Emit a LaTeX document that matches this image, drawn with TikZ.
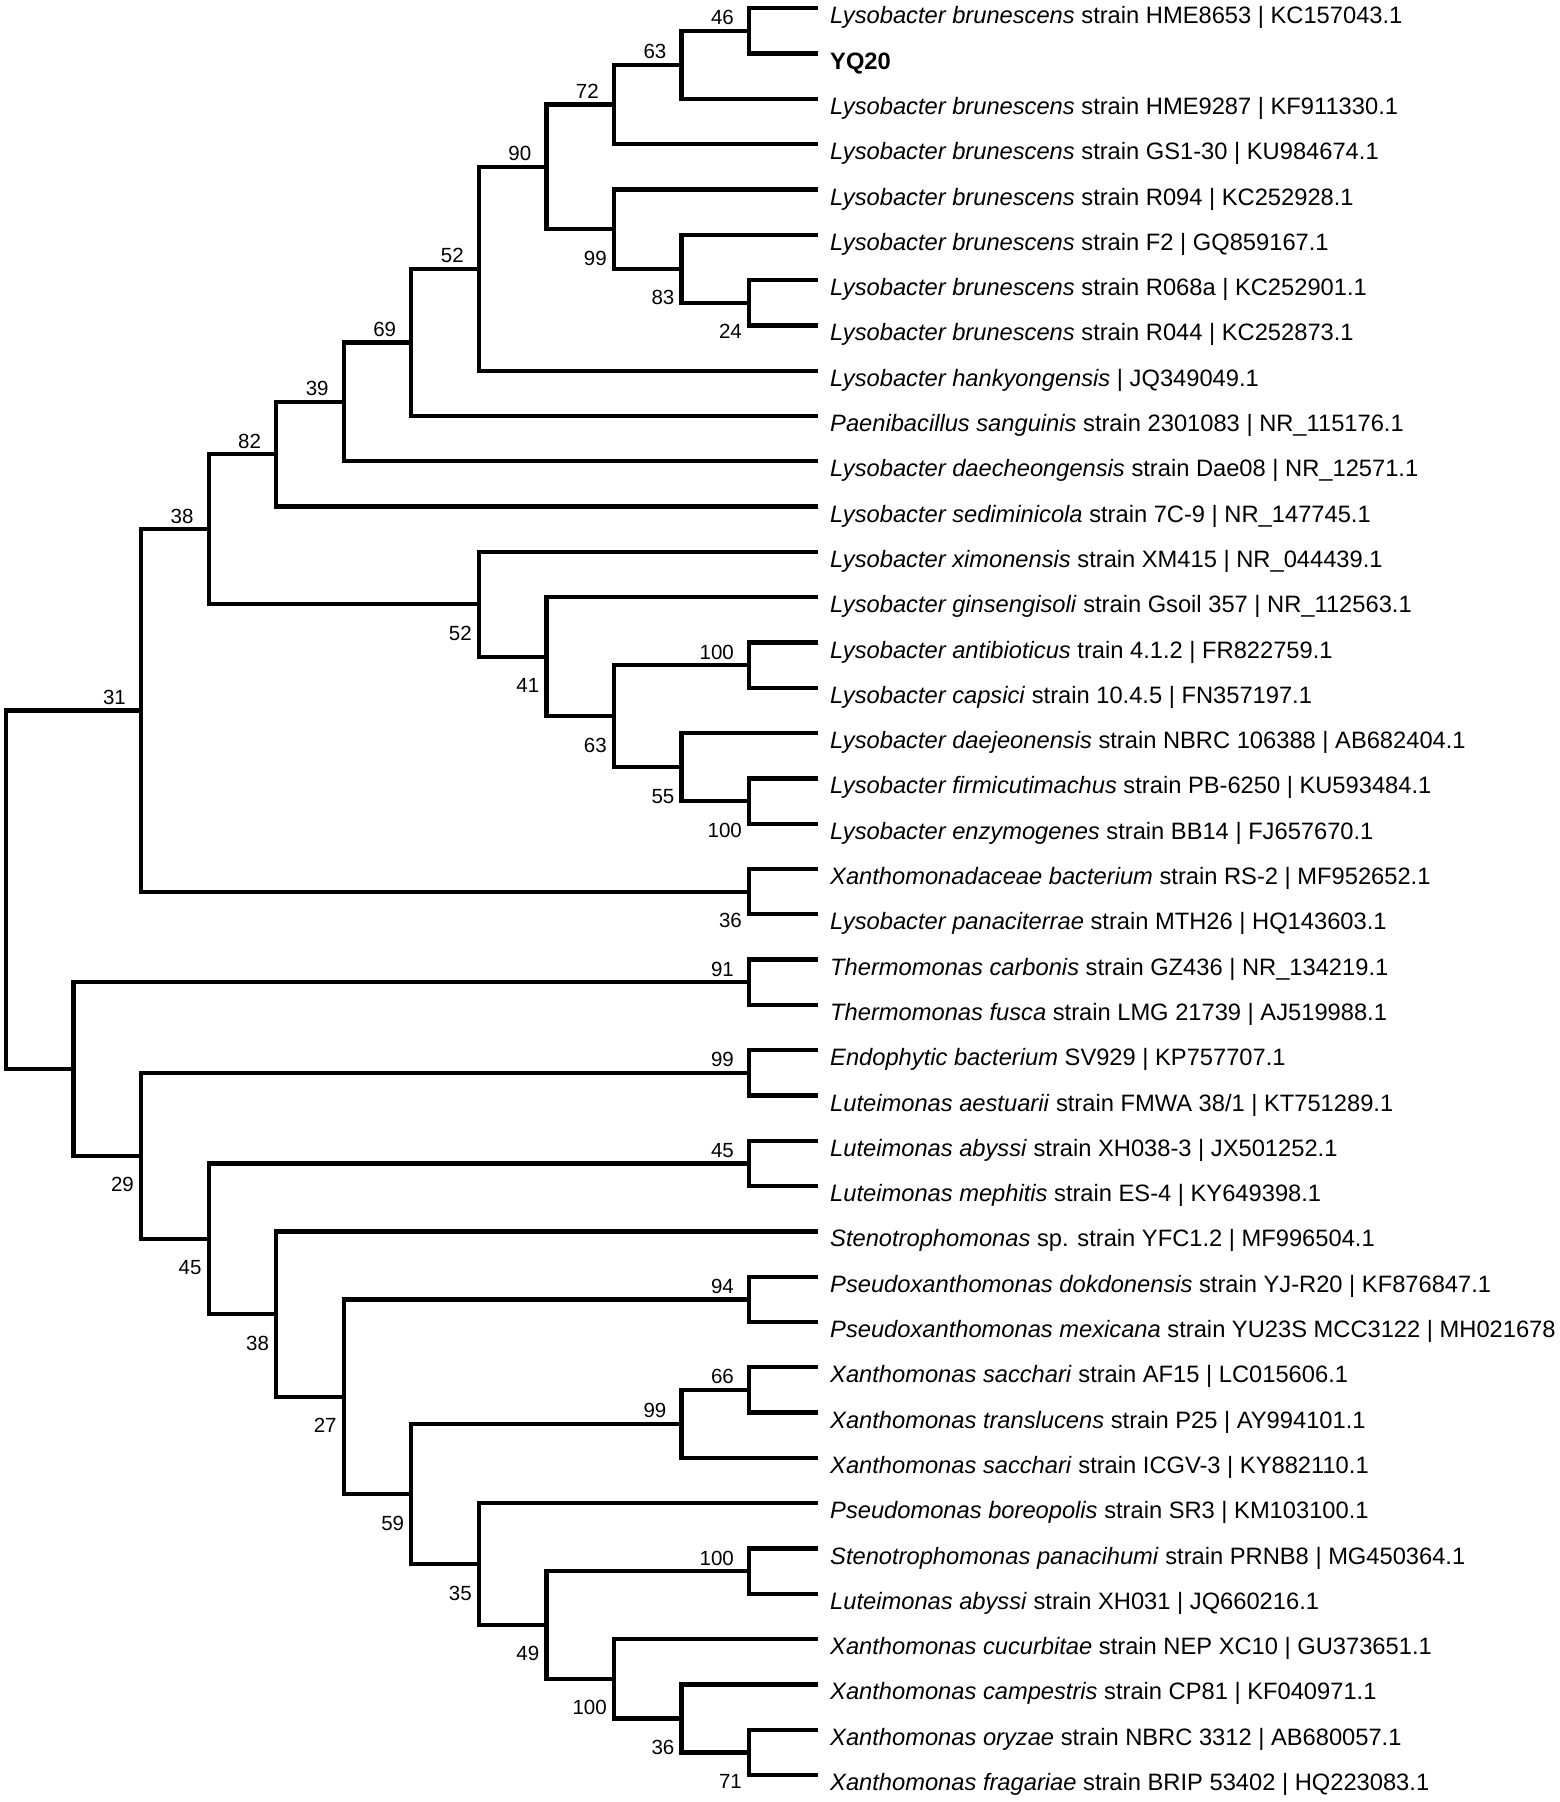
\documentclass[tikz,border=0pt]{standalone}
\usepackage{fontspec}
\setmainfont{Liberation Sans}
\newcommand{\taxfont}{\fontsize{23.7}{28}\selectfont}
\newcommand{\bsfont}{\fontsize{20.5}{24}\selectfont}
\begin{document}
\begin{tikzpicture}[x=1pt,y=-1pt,
  br/.style={line width=4.3pt},
  taxon/.style={anchor=base west, inner sep=0pt, font=\taxfont, xshift=12pt, yshift=-15.5pt},
  bsup/.style={anchor=base east, inner sep=0pt, font=\bsfont, xshift=-15pt, yshift=6pt},
  bsdn/.style={anchor=base east, inner sep=0pt, font=\bsfont, xshift=-7pt, yshift=-36pt}]
\useasboundingbox[fill=white] (0,0) rectangle (1559,1802);
% leaf ends
\coordinate (e0) at (818,8.3);
\coordinate (e1) at (818,53.6);
\coordinate (e2) at (818,98.9);
\coordinate (e3) at (818,144.2);
\coordinate (e4) at (818,189.5);
\coordinate (e5) at (818,234.8);
\coordinate (e6) at (818,280.1);
\coordinate (e7) at (818,325.4);
\coordinate (e8) at (818,370.7);
\coordinate (e9) at (818,416.0);
\coordinate (e10) at (818,461.3);
\coordinate (e11) at (818,506.6);
\coordinate (e12) at (818,551.9);
\coordinate (e13) at (818,597.2);
\coordinate (e14) at (818,642.5);
\coordinate (e15) at (818,687.8);
\coordinate (e16) at (818,733.1);
\coordinate (e17) at (818,778.4);
\coordinate (e18) at (818,823.7);
\coordinate (e19) at (818,869.0);
\coordinate (e20) at (818,914.3);
\coordinate (e21) at (818,959.6);
\coordinate (e22) at (818,1004.9);
\coordinate (e23) at (818,1050.2);
\coordinate (e24) at (818,1095.5);
\coordinate (e25) at (818,1140.8);
\coordinate (e26) at (818,1186.1);
\coordinate (e27) at (818,1231.4);
\coordinate (e28) at (818,1276.7);
\coordinate (e29) at (818,1322.0);
\coordinate (e30) at (818,1367.3);
\coordinate (e31) at (818,1412.6);
\coordinate (e32) at (818,1457.9);
\coordinate (e33) at (818,1503.2);
\coordinate (e34) at (818,1548.5);
\coordinate (e35) at (818,1593.8);
\coordinate (e36) at (818,1639.1);
\coordinate (e37) at (818,1684.4);
\coordinate (e38) at (818,1729.7);
\coordinate (e39) at (818,1775.0);
% internal nodes
\coordinate (n46) at (749.05,30.95);
\coordinate (n63) at (681.5,64.93);
\coordinate (n72) at (613.95,104.56);
\coordinate (n24) at (749.05,302.75);
\coordinate (n83) at (681.5,268.78);
\coordinate (n99) at (613.95,229.14);
\coordinate (n90) at (546.4,166.85);
\coordinate (n52a) at (478.85,268.78);
\coordinate (n69) at (411.3,342.39);
\coordinate (n39) at (343.75,401.84);
\coordinate (n82) at (276.2,454.22);
\coordinate (n100a) at (749.05,665.15);
\coordinate (n100b) at (749.05,801.05);
\coordinate (n55) at (681.5,767.08);
\coordinate (n63b) at (613.95,716.11);
\coordinate (n41) at (546.4,656.66);
\coordinate (n52b) at (478.85,604.28);
\coordinate (n38) at (208.65,529.25);
\coordinate (n36a) at (749.05,891.65);
\coordinate (n31) at (141.1,710.45);
\coordinate (n91) at (749.05,982.25);
\coordinate (n99b) at (749.05,1072.85);
\coordinate (n45b) at (749.05,1163.45);
\coordinate (n94) at (749.05,1299.35);
\coordinate (n66) at (749.05,1389.95);
\coordinate (n99c) at (681.5,1423.93);
\coordinate (n100c) at (749.05,1571.15);
\coordinate (n71) at (749.05,1752.35);
\coordinate (n36b) at (681.5,1718.38);
\coordinate (n100d) at (613.95,1678.74);
\coordinate (n49) at (546.4,1624.94);
\coordinate (n35) at (478.85,1564.07);
\coordinate (n59) at (411.3,1494.0);
\coordinate (n27) at (343.75,1396.68);
\coordinate (n38b) at (276.2,1314.04);
\coordinate (n45a) at (208.65,1238.75);
\coordinate (n29) at (141.1,1155.8);
\coordinate (nB) at (73.55,1069.03);
\coordinate (root) at (6,889.74);
% branches
\draw[br] (root) |- (n31) (root) |- (nB);
\draw[br] (n31) |- (n38) (n31) |- (n36a);
\draw[br] (n38) |- (n82) (n38) |- (n52b);
\draw[br] (n82) |- (n39) (n82) |- (e11);
\draw[br] (n39) |- (n69) (n39) |- (e10);
\draw[br] (n69) |- (n52a) (n69) |- (e9);
\draw[br] (n52a) |- (n90) (n52a) |- (e8);
\draw[br] (n90) |- (n72) (n90) |- (n99);
\draw[br] (n72) |- (n63) (n72) |- (e3);
\draw[br] (n63) |- (n46) (n63) |- (e2);
\draw[br] (n46) |- (e0) (n46) |- (e1);
\draw[br] (n99) |- (e4) (n99) |- (n83);
\draw[br] (n83) |- (e5) (n83) |- (n24);
\draw[br] (n24) |- (e6) (n24) |- (e7);
\draw[br] (n52b) |- (e12) (n52b) |- (n41);
\draw[br] (n41) |- (e13) (n41) |- (n63b);
\draw[br] (n63b) |- (n100a) (n63b) |- (n55);
\draw[br] (n100a) |- (e14) (n100a) |- (e15);
\draw[br] (n55) |- (e16) (n55) |- (n100b);
\draw[br] (n100b) |- (e17) (n100b) |- (e18);
\draw[br] (n36a) |- (e19) (n36a) |- (e20);
\draw[br] (nB) |- (n91) (nB) |- (n29);
\draw[br] (n91) |- (e21) (n91) |- (e22);
\draw[br] (n29) |- (n99b) (n29) |- (n45a);
\draw[br] (n99b) |- (e23) (n99b) |- (e24);
\draw[br] (n45a) |- (n45b) (n45a) |- (n38b);
\draw[br] (n45b) |- (e25) (n45b) |- (e26);
\draw[br] (n38b) |- (e27) (n38b) |- (n27);
\draw[br] (n27) |- (n94) (n27) |- (n59);
\draw[br] (n94) |- (e28) (n94) |- (e29);
\draw[br] (n59) |- (n99c) (n59) |- (n35);
\draw[br] (n99c) |- (n66) (n99c) |- (e32);
\draw[br] (n66) |- (e30) (n66) |- (e31);
\draw[br] (n35) |- (e33) (n35) |- (n49);
\draw[br] (n49) |- (n100c) (n49) |- (n100d);
\draw[br] (n100c) |- (e34) (n100c) |- (e35);
\draw[br] (n100d) |- (e36) (n100d) |- (n36b);
\draw[br] (n36b) |- (e37) (n36b) |- (n71);
\draw[br] (n71) |- (e38) (n71) |- (e39);
% bootstrap labels
\node[bsup] (b46) at (n46) {46};
\node[bsup] (b63) at (n63) {63};
\node[bsup] (b72) at (n72) {72};
\node[bsup] (b90) at (n90) {90};
\node[bsdn] (b99) at (n99) {99};
\node[bsdn] (b83) at (n83) {83};
\node[bsdn] (b24) at (n24) {24};
\node[bsup] (b52a) at (n52a) {52};
\node[bsup] (b69) at (n69) {69};
\node[bsup] (b39) at (n39) {39};
\node[bsup] (b82) at (n82) {82};
\node[bsup] (b38) at (n38) {38};
\node[bsup] (b31) at (n31) {31};
\node[bsdn] (b52b) at (n52b) {52};
\node[bsdn] (b41) at (n41) {41};
\node[bsdn] (b63b) at (n63b) {63};
\node[bsup] (b100a) at (n100a) {100};
\node[bsdn] (b55) at (n55) {55};
\node[bsdn] (b100b) at (n100b) {100};
\node[bsdn] (b36a) at (n36a) {36};
\node[bsup] (b91) at (n91) {91};
\node[bsdn] (b29) at (n29) {29};
\node[bsup] (b99b) at (n99b) {99};
\node[bsdn] (b45a) at (n45a) {45};
\node[bsup] (b45b) at (n45b) {45};
\node[bsdn] (b38b) at (n38b) {38};
\node[bsdn] (b27) at (n27) {27};
\node[bsup] (b94) at (n94) {94};
\node[bsdn] (b59) at (n59) {59};
\node[bsup] (b99c) at (n99c) {99};
\node[bsup] (b66) at (n66) {66};
\node[bsdn] (b35) at (n35) {35};
\node[bsdn] (b49) at (n49) {49};
\node[bsup] (b100c) at (n100c) {100};
\node[bsdn] (b100d) at (n100d) {100};
\node[bsdn] (b36b) at (n36b) {36};
\node[bsdn] (b71) at (n71) {71};
% taxa
\node[taxon] (t0) at (e0) {\textit{Lysobacter brunescens} strain HME8653 | KC157043.1};
\node[taxon] (t1) at (e1) {\textbf{YQ20}};
\node[taxon] (t2) at (e2) {\textit{Lysobacter brunescens} strain HME9287 | KF911330.1};
\node[taxon] (t3) at (e3) {\textit{Lysobacter brunescens} strain GS1-30 | KU984674.1};
\node[taxon] (t4) at (e4) {\textit{Lysobacter brunescens} strain R094 | KC252928.1};
\node[taxon] (t5) at (e5) {\textit{Lysobacter brunescens} strain F2 | GQ859167.1};
\node[taxon] (t6) at (e6) {\textit{Lysobacter brunescens} strain R068a | KC252901.1};
\node[taxon] (t7) at (e7) {\textit{Lysobacter brunescens} strain R044 | KC252873.1};
\node[taxon] (t8) at (e8) {\textit{Lysobacter hankyongensis} | JQ349049.1};
\node[taxon] (t9) at (e9) {\textit{Paenibacillus sanguinis} strain 2301083 | NR\_115176.1};
\node[taxon] (t10) at (e10) {\textit{Lysobacter daecheongensis} strain Dae08 | NR\_12571.1};
\node[taxon] (t11) at (e11) {\textit{Lysobacter sediminicola} strain 7C-9 | NR\_147745.1};
\node[taxon] (t12) at (e12) {\textit{Lysobacter ximonensis} strain XM415 | NR\_044439.1};
\node[taxon] (t13) at (e13) {\textit{Lysobacter ginsengisoli} strain Gsoil 357 | NR\_112563.1};
\node[taxon] (t14) at (e14) {\textit{Lysobacter antibioticus} train 4.1.2 | FR822759.1};
\node[taxon] (t15) at (e15) {\textit{Lysobacter capsici} strain 10.4.5 | FN357197.1};
\node[taxon] (t16) at (e16) {\textit{Lysobacter daejeonensis} strain NBRC 106388 | AB682404.1};
\node[taxon] (t17) at (e17) {\textit{Lysobacter firmicutimachus} strain PB-6250 | KU593484.1};
\node[taxon] (t18) at (e18) {\textit{Lysobacter enzymogenes} strain BB14 | FJ657670.1};
\node[taxon] (t19) at (e19) {\textit{Xanthomonadaceae bacterium} strain RS-2 | MF952652.1};
\node[taxon] (t20) at (e20) {\textit{Lysobacter panaciterrae} strain MTH26 | HQ143603.1};
\node[taxon] (t21) at (e21) {\textit{Thermomonas carbonis} strain GZ436 | NR\_134219.1};
\node[taxon] (t22) at (e22) {\textit{Thermomonas fusca} strain LMG 21739 | AJ519988.1};
\node[taxon] (t23) at (e23) {\textit{Endophytic bacterium} SV929 | KP757707.1};
\node[taxon] (t24) at (e24) {\textit{Luteimonas aestuarii} strain FMWA 38/1 | KT751289.1};
\node[taxon] (t25) at (e25) {\textit{Luteimonas abyssi} strain XH038-3 | JX501252.1};
\node[taxon] (t26) at (e26) {\textit{Luteimonas mephitis} strain ES-4 | KY649398.1};
\node[taxon] (t27) at (e27) {\textit{Stenotrophomonas} sp. strain YFC1.2 | MF996504.1};
\node[taxon] (t28) at (e28) {\textit{Pseudoxanthomonas dokdonensis} strain YJ-R20 | KF876847.1};
\node[taxon] (t29) at (e29) {\textit{Pseudoxanthomonas mexicana} strain YU23S MCC3122 | MH021678};
\node[taxon] (t30) at (e30) {\textit{Xanthomonas sacchari} strain AF15 | LC015606.1};
\node[taxon] (t31) at (e31) {\textit{Xanthomonas translucens} strain P25 | AY994101.1};
\node[taxon] (t32) at (e32) {\textit{Xanthomonas sacchari} strain ICGV-3 | KY882110.1};
\node[taxon] (t33) at (e33) {\textit{Pseudomonas boreopolis} strain SR3 | KM103100.1};
\node[taxon] (t34) at (e34) {\textit{Stenotrophomonas panacihumi} strain PRNB8 | MG450364.1};
\node[taxon] (t35) at (e35) {\textit{Luteimonas abyssi} strain XH031 | JQ660216.1};
\node[taxon] (t36) at (e36) {\textit{Xanthomonas cucurbitae} strain NEP XC10 | GU373651.1};
\node[taxon] (t37) at (e37) {\textit{Xanthomonas campestris} strain CP81 | KF040971.1};
\node[taxon] (t38) at (e38) {\textit{Xanthomonas oryzae} strain NBRC 3312 | AB680057.1};
\node[taxon] (t39) at (e39) {\textit{Xanthomonas fragariae} strain BRIP 53402 | HQ223083.1};
\end{tikzpicture}
\end{document}
